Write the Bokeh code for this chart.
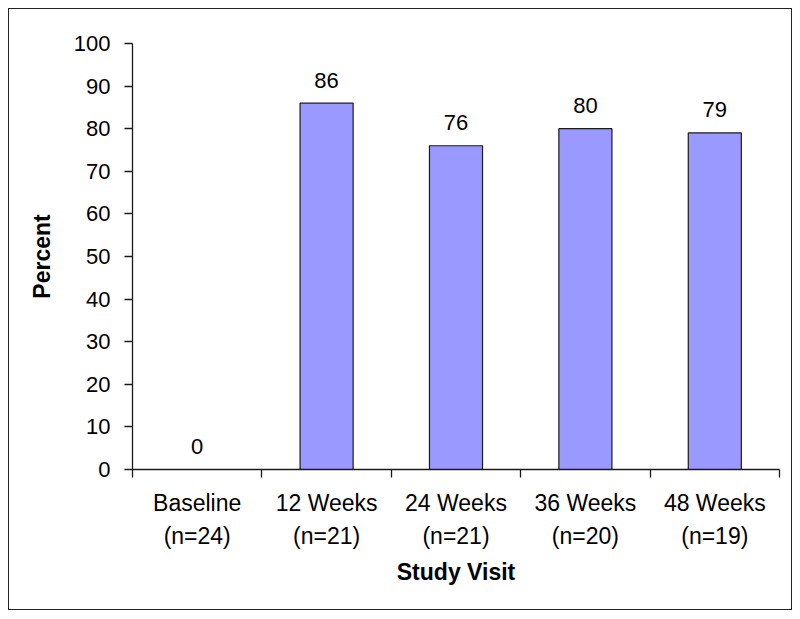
from bokeh.plotting import figure
from bokeh.models import FixedTicker, Range1d, ColumnDataSource
from bokeh.embed import file_html
from bokeh.resources import INLINE
from bokeh.core.properties import value

categories = ["Baseline", "12 Weeks", "24 Weeks", "36 Weeks", "48 Weeks"]
n_counts = [24, 21, 21, 20, 19]
percent = [0, 86, 76, 80, 79]
y_ticks = [0, 10, 20, 30, 40, 50, 60, 70, 80, 90, 100]

FONT = "Liberation Sans"
INK = "#1a1a1a"

centers = [i + 0.5 for i in range(len(categories))]
bounds = list(range(len(categories) + 1))
labels = [f"{c}\n(n={n})" for c, n in zip(categories, n_counts)]

src = ColumnDataSource(dict(x=centers, top=percent, txt=[str(v) for v in percent]))

p = figure(width=784, height=602, output_backend="svg", toolbar_location=None,
           x_range=Range1d(0, len(categories)), y_range=Range1d(0, 100),
           min_border_left=123, min_border_right=14, min_border_top=34, min_border_bottom=142)
p.styles = {"border": "1.5px solid #222", "margin-left": "8px", "margin-top": "8px"}
p.outline_line_color = None
p.xgrid.visible = False
p.ygrid.visible = False
p.background_fill_color = "white"
p.border_fill_color = "white"

p.vbar(x="x", top="top", width=0.41, bottom=0, source=src,
       fill_color="#9999FF", line_color=INK, line_width=1.2)
p.text(x="x", y="top", text="txt", source=src, y_offset=-23,
       text_align="center", text_baseline="alphabetic",
       text_font=value(FONT), text_font_size="22px", text_color="black")

# y axis
ya = p.yaxis[0]
ya.ticker = FixedTicker(ticks=y_ticks)
ya.axis_line_color = INK
ya.axis_line_width = 1.3
ya.major_tick_line_color = INK
ya.major_tick_line_width = 1.3
ya.major_tick_in = 0
ya.major_tick_out = 8
ya.minor_tick_out = 0
ya.minor_tick_in = 0
ya.major_label_standoff = 14
ya.major_label_text_font = FONT
ya.major_label_text_font_size = "22px"
ya.major_label_text_color = "black"
ya.axis_label = "Percent"
ya.axis_label_text_font = FONT
ya.axis_label_text_font_size = "23px"
ya.axis_label_text_font_style = "bold"
ya.axis_label_text_color = "black"
ya.axis_label_standoff = 16

# x axis
xa = p.xaxis[0]
xa.ticker = FixedTicker(ticks=centers, minor_ticks=bounds)
xa.major_label_overrides = {c: l for c, l in zip(centers, labels)}
xa.axis_line_color = INK
xa.axis_line_width = 1.3
xa.major_tick_in = 0
xa.major_tick_out = 0
xa.major_tick_line_color = None
xa.minor_tick_in = 0
xa.minor_tick_out = 8
xa.minor_tick_line_color = INK
xa.minor_tick_line_width = 1.3
xa.major_label_standoff = 12
xa.major_label_text_font = FONT
xa.major_label_text_font_size = "23px"
xa.major_label_text_line_height = 1.27
xa.major_label_text_color = "black"
xa.axis_label = "Study Visit"
xa.axis_label_text_font = FONT
xa.axis_label_text_font_size = "23px"
xa.axis_label_text_font_style = "bold"
xa.axis_label_text_color = "black"
xa.axis_label_standoff = 7

open("out.html", "w").write(file_html(p, INLINE))
